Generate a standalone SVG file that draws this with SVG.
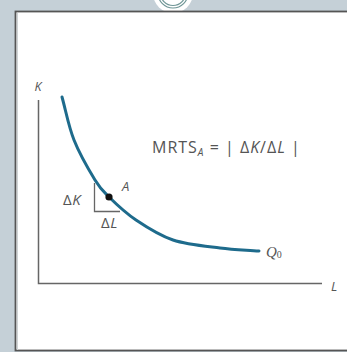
<svg xmlns="http://www.w3.org/2000/svg" width="347" height="352" viewBox="0 0 347 352">
<style>
.lbl{font-family:"Open Sans",Lato,"Liberation Sans",sans-serif;fill:#555;}
.it{font-style:italic;}
.ax{stroke:#666;stroke-width:1.5;fill:none;}
.ser{font-family:"Liberation Serif","DejaVu Serif",serif;fill:#555;font-style:italic;}
</style>
<rect x="0" y="0" width="347" height="352" fill="#c5d0d7"/>
<g id="panel">
<circle cx="173" cy="-7" r="20" fill="#ffffff"/>
<rect x="15.5" y="11.5" width="340" height="339" fill="#ffffff" stroke="#555" stroke-width="1.8"/>
<line x1="17.5" y1="13" x2="17.5" y2="350" stroke="#cfd4d6" stroke-width="1"/>
<circle cx="173" cy="-7" r="15" fill="none" stroke="#6f9696" stroke-width="1.2"/>
<circle cx="173" cy="-7" r="12.5" fill="none" stroke="#6f9696" stroke-width="1.2"/>
</g>
<g id="axes">
<polyline class="ax" points="38.5,100 38.5,283.5 322,283.5"/>
<text class="lbl it" x="34.5" y="91" font-size="12.5">K</text>
<text class="lbl it" x="331" y="291" font-size="13">L</text>
</g>
<g id="curve">
<path d="M62,97 C66,111.3 68.5,126.2 74,140 C79.5,153.8 89.2,170.5 95,180 C100.8,189.5 102.2,190.3 109,197 C115.8,203.7 125.3,212.8 136,220 C146.7,227.2 159,235.3 173,240 C187,244.7 205.7,246.2 220,248 C234.3,249.8 246,250 259,251" fill="none" stroke="#1e6b8c" stroke-width="3" stroke-linecap="round"/>
<text class="ser" x="266" y="257" font-size="15">Q<tspan font-size="10" font-style="normal" dy="1">0</tspan></text>
</g>
<g id="pointA">
<polyline points="94.5,183 94.5,211.5 120,211.5" fill="none" stroke="#666" stroke-width="1.3"/>
<circle cx="109" cy="197" r="3.6" fill="#111"/>
<text class="lbl it" x="122" y="191" font-size="13">A</text>
<text class="lbl" x="63" y="205" font-size="15" letter-spacing="0.5">Δ<tspan class="it">K</tspan></text>
<text class="lbl" x="101" y="228" font-size="15" letter-spacing="0.5">Δ<tspan class="it">L</tspan></text>
</g>
<g id="formula">
<text class="lbl" x="152" y="153" font-size="16" letter-spacing="1">MRTS<tspan class="it" font-size="10" dy="3">A</tspan><tspan dy="-3"> = | Δ</tspan><tspan class="it">K</tspan>/Δ<tspan class="it">L</tspan> |</text>
</g>
</svg>
